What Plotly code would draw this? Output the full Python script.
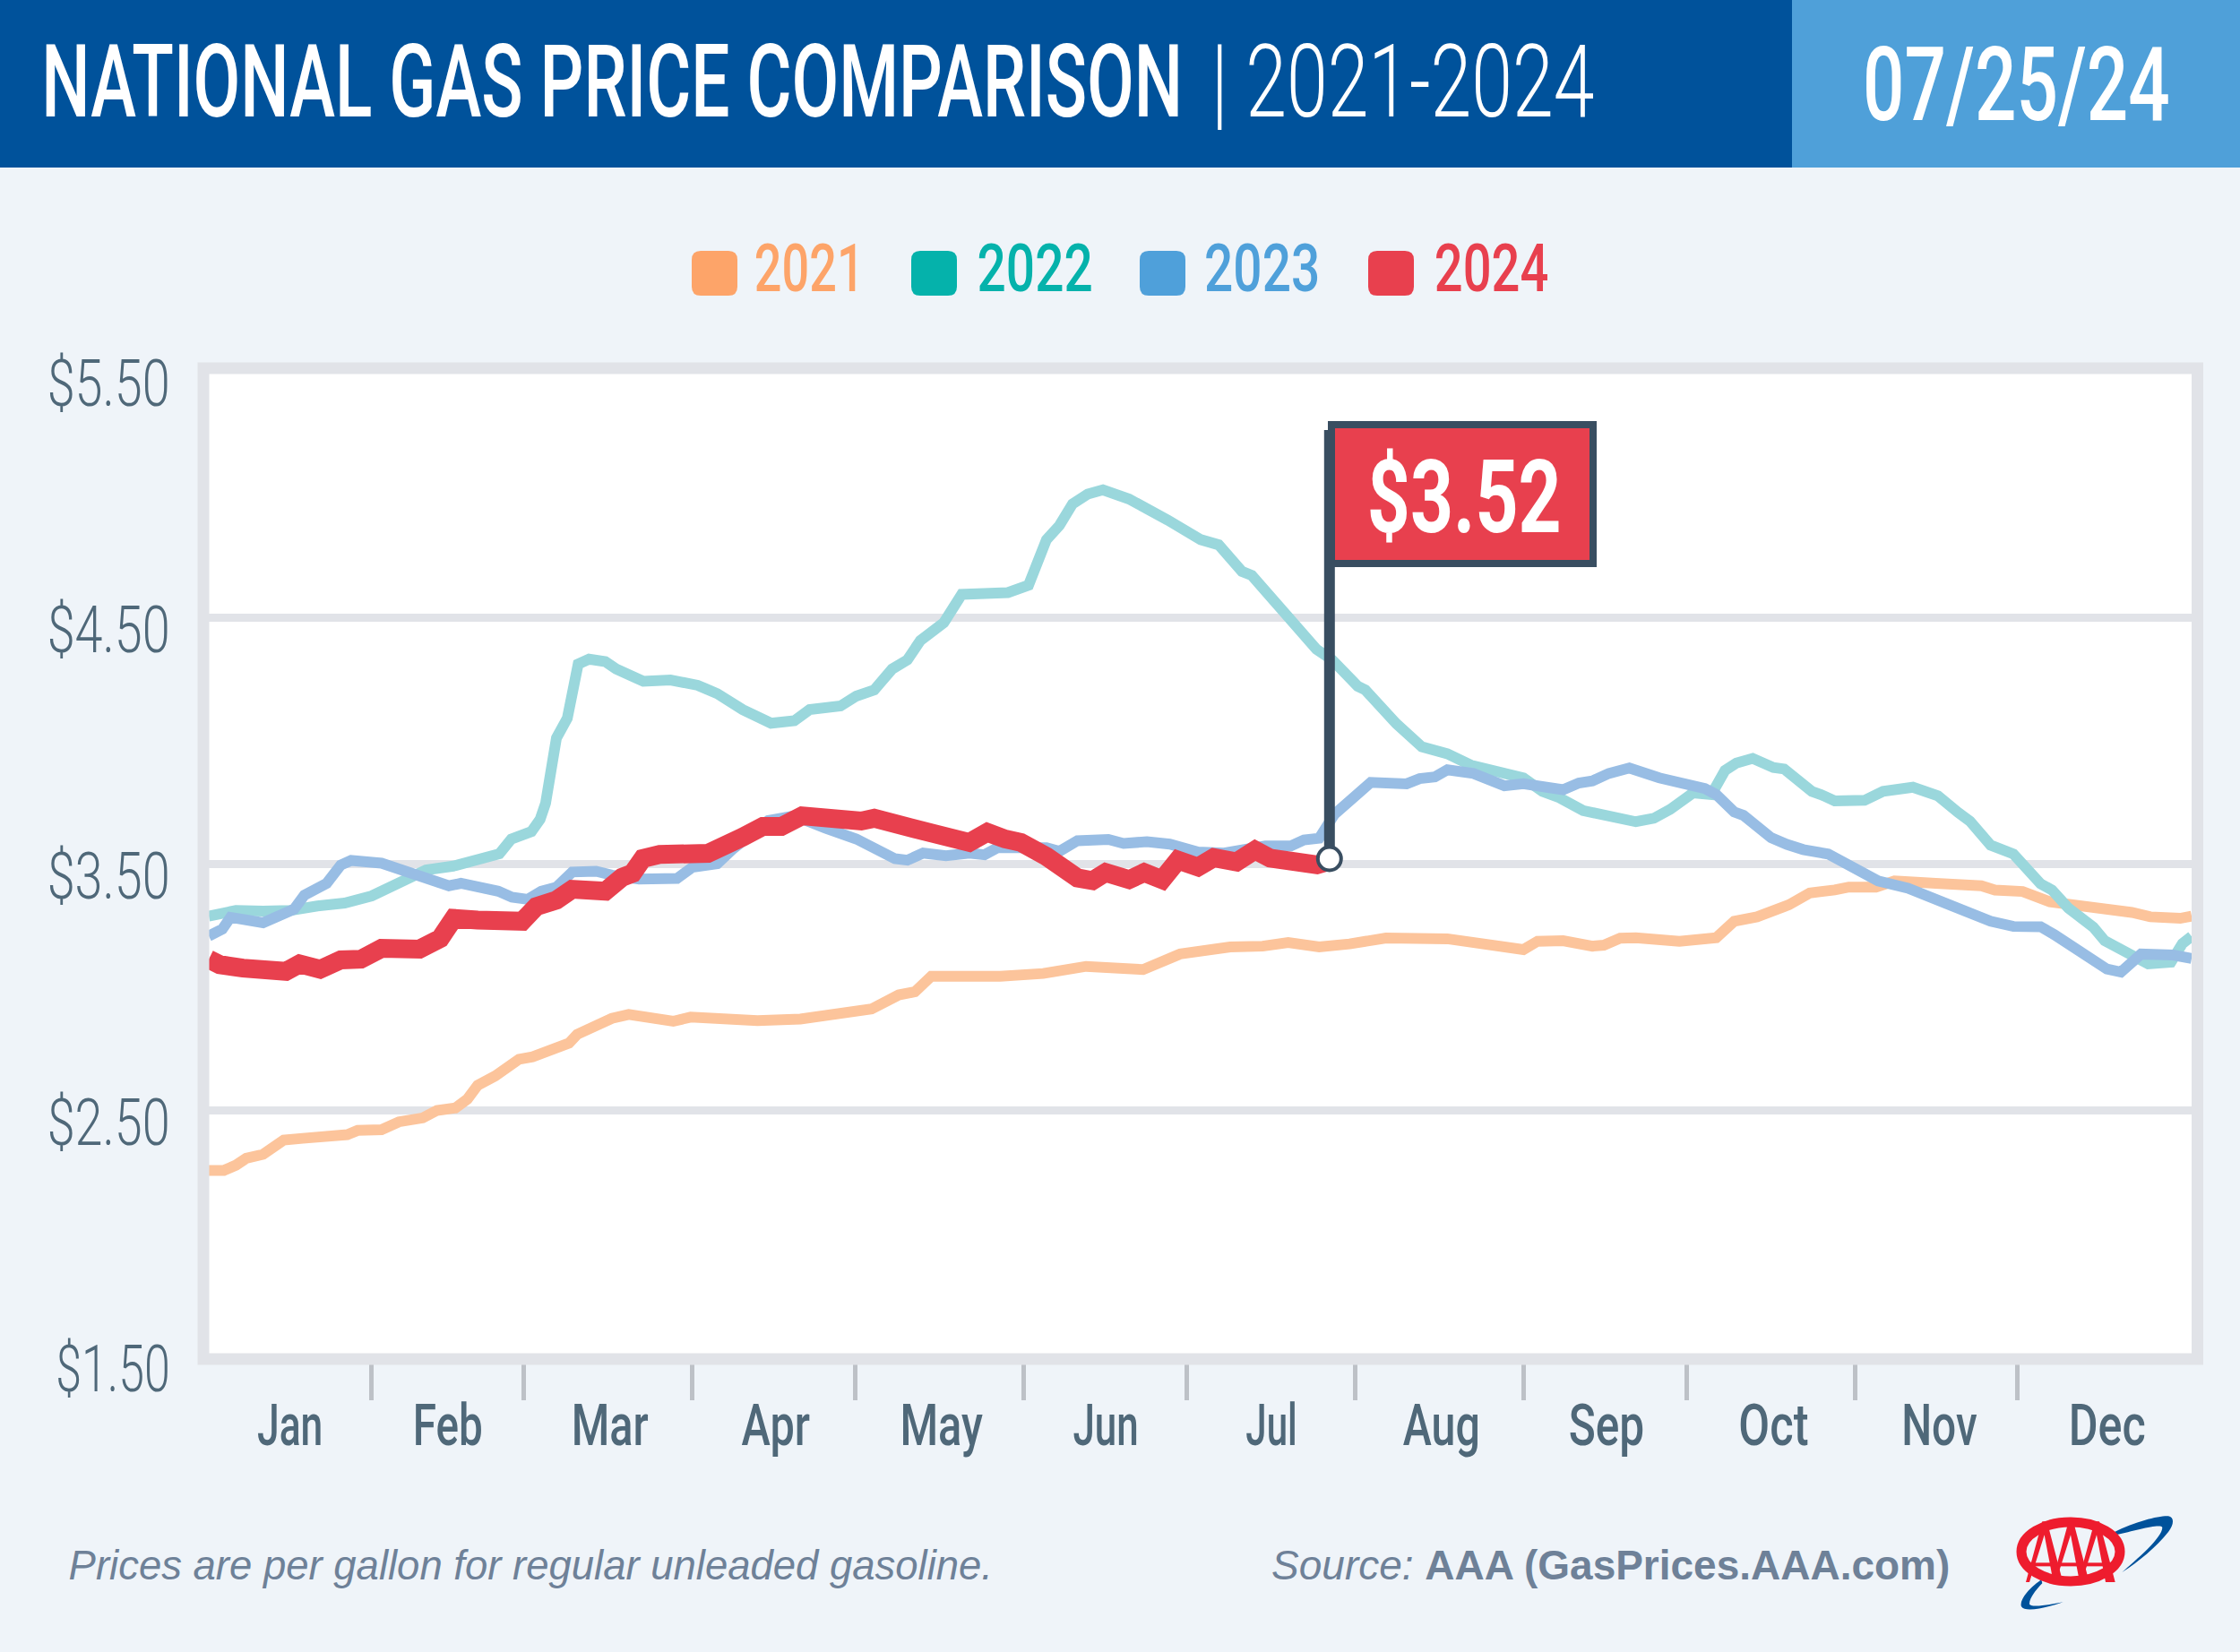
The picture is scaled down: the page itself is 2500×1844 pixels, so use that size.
import json
import plotly.graph_objects as go

# day of year / price pairs
days_2021 = [0, 2.8, 5, 6.9, 10, 13.8, 17.3, 21.7, 25.5, 27.4, 31.8, 35, 39.4, 42, 45.4, 47.6, 49.5, 52.7, 54.6, 57.1, 59.6, 66.3, 67.8, 71.3, 74.2, 77.3, 80.5, 85.5, 88.7, 93.6, 101, 108.9, 116.8, 122, 127, 130, 133, 145.7, 153.6, 161.5, 172, 178.8, 188, 194, 198.7, 204.4, 210, 216.7, 228, 235.6, 238.5, 242, 244.6, 249.3, 254.7, 256.8, 259.8, 262.7, 270.7, 277.5, 280.8, 285, 290.9, 294.7, 299.3, 301.9, 306.9, 310.3, 317.9, 326.3, 328.8, 333.9, 338.9, 346.5, 349, 354, 357.4, 362.9, 365]
price_2021 = [2.255, 2.255, 2.276, 2.304, 2.32, 2.378, 2.385, 2.398, 2.40, 2.417, 2.42, 2.452, 2.468, 2.498, 2.508, 2.544, 2.60, 2.638, 2.666, 2.706, 2.716, 2.771, 2.807, 2.849, 2.872, 2.888, 2.88, 2.86, 2.877, 2.873, 2.863, 2.869, 2.898, 2.91, 2.967, 2.98, 3.043, 3.043, 3.054, 3.083, 3.07, 3.133, 3.162, 3.165, 3.18, 3.162, 3.174, 3.198, 3.195, 3.176, 3.165, 3.151, 3.185, 3.187, 3.165, 3.169, 3.197, 3.199, 3.185, 3.199, 3.266, 3.284, 3.333, 3.381, 3.393, 3.405, 3.405, 3.43, 3.42, 3.41, 3.393, 3.387, 3.345, 3.327, 3.315, 3.302, 3.284, 3.278, 3.287]

days_2022 = [0, 5, 10, 15, 20, 25, 30, 35, 40, 45, 50, 53.5, 55.7, 59.4, 61, 62, 64, 66, 68, 70, 73, 75, 80, 85, 90, 93.6, 98.3, 103.5, 107.8, 110.6, 116.3, 119.2, 122.5, 125.8, 128.6, 131, 135.3, 138.6, 147.1, 150.9, 154.2, 156.6, 159, 161.8, 164.6, 169.4, 176.5, 182.6, 185.9, 190.2, 192, 197.8, 203.9, 206.8, 211.5, 212.9, 218.6, 223.3, 228, 232.3, 238.5, 242, 245.5, 248.4, 253, 257.3, 260.6, 262.7, 266, 269, 273.2, 276.6, 279.1, 281.2, 284.2, 288, 290, 295.1, 296.8, 299.3, 304.8, 308.2, 313.7, 317, 318.3, 322, 324.2, 328, 332.2, 337.2, 339.3, 342.3, 346.9, 349, 353.6, 357, 361.2, 363.3, 365]
price_2022 = [3.287, 3.31, 3.307, 3.31, 3.328, 3.34, 3.369, 3.42, 3.474, 3.49, 3.525, 3.54, 3.6, 3.63, 3.68, 3.745, 4.01, 4.09, 4.31, 4.33, 4.32, 4.29, 4.24, 4.245, 4.224, 4.19, 4.125, 4.07, 4.08, 4.125, 4.14, 4.18, 4.205, 4.29, 4.327, 4.406, 4.478, 4.593, 4.60, 4.63, 4.815, 4.873, 4.96, 5.0, 5.017, 4.98, 4.895, 4.815, 4.794, 4.686, 4.67, 4.53, 4.37, 4.327, 4.22, 4.205, 4.068, 3.974, 3.946, 3.90, 3.86, 3.848, 3.793, 3.77, 3.715, 3.696, 3.672, 3.67, 3.684, 3.72, 3.787, 3.78, 3.878, 3.908, 3.927, 3.89, 3.884, 3.793, 3.78, 3.755, 3.757, 3.793, 3.81, 3.78, 3.775, 3.708, 3.672, 3.575, 3.539, 3.418, 3.393, 3.32, 3.242, 3.187, 3.133, 3.093, 3.10, 3.175, 3.205]

days_2023 = [0, 2.5, 4, 7.8, 10, 13.5, 15.7, 17.6, 21.7, 24.3, 26.2, 31.8, 36.3, 41.3, 44.2, 46.4, 53.3, 55.8, 58.7, 61.2, 64, 66.9, 71.3, 74.2, 79.2, 86.2, 89, 93.6, 96.4, 103, 107.8, 113.5, 119.2, 126.3, 128.6, 131.5, 135.7, 140, 142.8, 145.2, 154.2, 156.6, 159.9, 165.6, 168.4, 172.7, 176.9, 182.1, 186.9, 194.5, 199.2, 201.6, 204.4, 207.2, 211, 213.9, 220.5, 222.9, 225.7, 228, 232.8, 238.5, 242, 245.5, 249.3, 252.2, 254.7, 257.7, 261.5, 267, 270.7, 275.4, 277.5, 280.8, 282.5, 287.6, 290.5, 293.5, 298.1, 301.9, 303.6, 307.3, 312.8, 316.2, 320.4, 324.2, 328, 332.2, 337.2, 339.7, 343.5, 345.2, 349.4, 352, 355.7, 361.6, 365]
price_2023 = [3.206, 3.234, 3.282, 3.27, 3.26, 3.294, 3.315, 3.372, 3.42, 3.494, 3.513, 3.502, 3.47, 3.424, 3.41, 3.42, 3.388, 3.364, 3.355, 3.388, 3.404, 3.466, 3.469, 3.453, 3.437, 3.44, 3.485, 3.5, 3.558, 3.675, 3.694, 3.644, 3.60, 3.52, 3.514, 3.543, 3.532, 3.543, 3.536, 3.565, 3.565, 3.55, 3.593, 3.598, 3.582, 3.589, 3.579, 3.547, 3.543, 3.572, 3.572, 3.596, 3.603, 3.70, 3.766, 3.83, 3.824, 3.845, 3.852, 3.881, 3.866, 3.816, 3.824, 3.815, 3.80, 3.827, 3.836, 3.866, 3.888, 3.848, 3.833, 3.805, 3.78, 3.71, 3.696, 3.605, 3.578, 3.557, 3.539, 3.496, 3.484, 3.43, 3.40, 3.369, 3.339, 3.302, 3.266, 3.245, 3.244, 3.212, 3.157, 3.145, 3.072, 3.06, 3.133, 3.129, 3.115]

days_2024 = [0, 2, 6.3, 10.4, 14.2, 16.7, 20.5, 24.3, 28, 31.8, 36.3, 38.8, 42.6, 45.1, 49.5, 55.5, 57.7, 60.3, 64, 66.9, 73, 76.1, 78, 79.9, 83, 91.9, 93.6, 96.4, 98.3, 102, 105.4, 109.2, 112.5, 115.4, 120.1, 122.5, 126.3, 129.6, 133.4, 140, 143.3, 146.6, 149.5, 154.2, 159.9, 162.7, 165.1, 169.4, 172.2, 175.5, 178.4, 182.1, 185, 189.2, 192.6, 195.4, 200.6, 204, 206.3]
price_2024 = [3.112, 3.09, 3.076, 3.075, 3.063, 3.093, 3.071, 3.109, 3.112, 3.156, 3.144, 3.153, 3.196, 3.278, 3.271, 3.255, 3.266, 3.326, 3.352, 3.396, 3.388, 3.445, 3.461, 3.521, 3.537, 3.542, 3.555, 3.594, 3.608, 3.651, 3.651, 3.694, 3.687, 3.673, 3.673, 3.684, 3.658, 3.655, 3.622, 3.586, 3.627, 3.60, 3.586, 3.529, 3.442, 3.431, 3.464, 3.435, 3.464, 3.435, 3.514, 3.486, 3.524, 3.507, 3.555, 3.522, 3.50, 3.495, 3.51]

months = ["Jan", "Feb", "Mar", "Apr", "May", "Jun", "Jul", "Aug", "Sep", "Oct", "Nov", "Dec"]
month_mid = [15, 44, 73.9, 104, 134.6, 164.8, 195.4, 226.7, 257, 287.7, 318.2, 349.5]
month_start = [30, 58, 89, 119, 150, 180, 211, 242, 272, 303, 333]
price_ticks = [1.5, 2.5, 3.5, 4.5, 5.5]
price_labels = ["$1.50", "$2.50", "$3.50", "$4.50", "$5.50"]

flag_day = 206.3
flag_price = 3.52
flag_top = 5.26

W, H = 2500, 1844
SANS = "Liberation Sans"
COND = "Roboto"
BG = "#EFF4F9"
FRAME = "#E1E3E8"
SLATE = "#394E61"

# no condensed font is installed, so texts get squeezed to the width they have in the picture
# text: [left px, right px], measured on the 1568 wide view of the picture
TEXT_SPANS = {
    "NATIONAL GAS PRICE COMPARISON": [29, 828],
    "| 2021-2024": [848, 1116],
    "07/25/24": [1304, 1519],
    "2021": [528, 605], "2022": [684, 765], "2023": [843, 924], "2024": [1004, 1084],
    "$3.52": [957, 1093],
    "$5.50": [33, 119], "$4.50": [33, 119], "$3.50": [33, 119], "$2.50": [33, 119], "$1.50": [39, 119],
    "Jan": [180, 226], "Feb": [289, 338], "Mar": [400, 454], "Apr": [519, 567], "May": [630, 688], "Jun": [751, 797],
    "Jul": [872, 908], "Aug": [982, 1036], "Sep": [1098, 1151], "Oct": [1217, 1266], "Nov": [1331, 1384], "Dec": [1448, 1502],
    "Prices are per gallon for regular unleaded gasoline.": [48, 695],
    "Source: AAA (GasPrices.AAA.com)": [890, 1365],
}
SQUEEZE_JS = """
document.body.style.margin = '0';
document.body.style.background = '%s';
document.documentElement.style.overflow = 'hidden';
var spans = %s;
document.querySelectorAll('.main-svg text').forEach(function (t) {
    var span = spans[t.textContent];
    if (!span) return;
    var left = span[0] * %f, width = (span[1] - span[0]) * %f;
    var box = t.getBBox(), rect = t.getBoundingClientRect();
    var old = t.getAttribute('transform') || '';
    t.setAttribute('transform', old + ' translate(' + (box.x + left - rect.left) + ',0) scale(' + (width / box.width) + ',1) translate(' + (-box.x) + ',0)');
});
""" % (BG, json.dumps(TEXT_SPANS), W / 1568, W / 1568)


def px(x):
    return x / W


def py(y):
    return 1 - y / H


def rect(x0, y0, x1, y1, fill, line=None, width=0):
    return dict(type="rect", xref="paper", yref="paper", x0=px(x0), x1=px(x1), y0=py(y0), y1=py(y1),
                fillcolor=fill, line=dict(color=line, width=width))


def label(text, x, y, size, color, anchor="left", family=COND, **kw):
    return dict(text=text, xref="paper", yref="paper", x=px(x), y=py(y), xanchor=anchor, yanchor="middle",
                showarrow=False, font=dict(family=family, size=size, color=color, **kw))


def path(points):
    # points are in the 3x logo crop, as svg path pieces
    out = []
    for p in points:
        if isinstance(p, str):
            out.append(p)
        else:
            out.append("%.5f,%.5f" % (px(2150 + p[0] / 3), py(1660 + p[1] / 3)))
    return " ".join(out)


def logo_a(cx, top, bottom, half):
    # one letter of the logo: two legs and a bar
    bar = top + (bottom - top) * 0.68
    return [
        dict(type="path", xref="paper", yref="paper", line=dict(color="#EE1C2E", width=0), fillcolor="#EE1C2E",
             path=path(["M", (cx - 7, top), "L", (cx + 9, top), "L", (cx + half, bottom), "L", (cx + half - 32, bottom), "L", (cx, top + 45), "L", (cx - half + 12, bottom), "L", (cx - half, bottom), "Z"])),
        dict(type="path", xref="paper", yref="paper", line=dict(color="#EE1C2E", width=0), fillcolor="#EE1C2E",
             path=path(["M", (cx - 40, bar), "L", (cx + 40, bar), "L", (cx + 40, bar + 12), "L", (cx - 40, bar + 12), "Z"])),
    ]


fig = go.Figure()
fig.add_trace(go.Scatter(x=days_2021, y=price_2021, mode="lines", line=dict(color="#FCC49B", width=12), hoverinfo="skip"))
fig.add_trace(go.Scatter(x=days_2022, y=price_2022, mode="lines", line=dict(color="#9AD7DC", width=12), hoverinfo="skip"))
fig.add_trace(go.Scatter(x=days_2023, y=price_2023, mode="lines", line=dict(color="#98BDE4", width=12), hoverinfo="skip"))
fig.add_trace(go.Scatter(x=days_2024, y=price_2024, mode="lines", line=dict(color="#E8404E", width=21), hoverinfo="skip"))
# flag pole and end dot
fig.add_trace(go.Scatter(x=[flag_day, flag_day], y=[flag_price, flag_top], mode="lines", line=dict(color=SLATE, width=12), hoverinfo="skip"))
fig.add_trace(go.Scatter(x=[flag_day], y=[flag_price], mode="markers", hoverinfo="skip",
                         marker=dict(color="white", size=26, line=dict(color=SLATE, width=4))))

shapes = [
    rect(0, 0, 2000, 187, "#00529B"),
    rect(2000, 0, 2500, 187, "#4FA0D9"),
    rect(227, 411, 2452.5, 1517, "rgba(0,0,0,0)", FRAME, 13),
    rect(1486, 474, 1778, 629, "#E8404E", SLATE, 8),
]
for sx, c in zip([772, 1017, 1272, 1527], ["#FDA469", "#05B2AB", "#4FA0DA", "#E8404E"]):
    shapes.append(dict(type="path", xref="paper", yref="paper", fillcolor=c, line=dict(color=c, width=0),
                       path="M %f,%f L %f,%f Q %f,%f %f,%f L %f,%f Q %f,%f %f,%f L %f,%f Q %f,%f %f,%f L %f,%f Q %f,%f %f,%f Z" % (
                           px(sx + 10), py(280), px(sx + 41), py(280), px(sx + 51), py(280), px(sx + 51), py(290),
                           px(sx + 51), py(320), px(sx + 51), py(330), px(sx + 41), py(330),
                           px(sx + 10), py(330), px(sx), py(330), px(sx), py(320),
                           px(sx), py(290), px(sx), py(280), px(sx + 10), py(280))))

# AAA logo
shapes.append(dict(type="path", xref="paper", yref="paper", fillcolor="#00529B", line=dict(color="#00529B", width=0),
                   path=path(["M", (630, 150), "C", (700, 115), (780, 95), (810, 97), "C", (830, 100), (830, 125), (810, 150),
                              "C", (770, 200), (710, 250), (655, 285), "C", (700, 245), (790, 170), (790, 135),
                              "C", (785, 120), (700, 145), (635, 160), "Z"])))
shapes.append(dict(type="path", xref="paper", yref="paper", fillcolor="#00529B", line=dict(color="#00529B", width=0),
                   path=path(["M", (385, 310), "C", (340, 340), (310, 380), (318, 400), "C", (330, 420), (400, 405), (458, 385),
                              "C", (410, 395), (345, 405), (345, 390), "C", (345, 370), (370, 340), (388, 322), "Z"])))
shapes.append(dict(type="circle", xref="paper", yref="paper", x0=px(2256), x1=px(2366), y0=py(1699), y1=py(1765),
                   fillcolor=BG, line=dict(color="#EE1C2E", width=11)))
for cx in [395, 483, 570]:
    shapes.extend(logo_a(cx, 115, 318, 62))

annotations = [
    label("NATIONAL GAS PRICE COMPARISON", 45, 91, 113, "white", weight=500),
    label("| 2021-2024", 1350, 91, 113, "white", weight=300),
    label("07/25/24", 2250, 95, 115, "white", "center", weight=500),
    label("2021", 842, 299, 75, "#FDA469", weight=500),
    label("2022", 1090, 299, 75, "#05B2AB", weight=500),
    label("2023", 1344, 299, 75, "#4FA0DA", weight=500),
    label("2024", 1600, 299, 75, "#E8404E", weight=500),
    label("$3.52", 1633, 555, 114, "white", "center", weight=700),
    label("Prices are per gallon for regular unleaded gasoline.", 77, 1747, 46, "#6E8198", family=SANS, style="italic"),
    label("<i>Source:</i> <b>AAA (GasPrices.AAA.com)</b>", 1419, 1747, 46, "#6E8198", family=SANS),
]

fig.update_layout(
    width=W, height=H, autosize=False, showlegend=False,
    margin=dict(l=0, r=0, t=0, b=0),
    paper_bgcolor=BG, plot_bgcolor="white",
    shapes=shapes, annotations=annotations,
    xaxis=dict(domain=[233 / W, 2446 / W], range=[0, 365], showgrid=False, zeroline=False, automargin=False,
               tickmode="array", tickvals=month_mid, ticktext=months, ticks="",
               ticklabelstandoff=34, tickfont=dict(family=COND, size=64, color="#4F6879", weight=500),
               minor=dict(tickmode="array", tickvals=month_start, ticks="outside", ticklen=48, tickwidth=5, tickcolor="#BDC1C7", showgrid=False)),
    yaxis=dict(domain=[1 - 1514 / H, 1 - 414 / H], range=[1.5, 5.5], zeroline=False, automargin=False,
               tickmode="array", tickvals=price_ticks, ticktext=price_labels, ticks="",
               gridcolor=FRAME, gridwidth=9, ticklabelstandoff=43, ticklabelshift=14,
               tickfont=dict(family=COND, size=72, color="#4F6879", weight=300)),
)

fig.write_html("out.html", post_script=SQUEEZE_JS, config=dict(displayModeBar=False))
